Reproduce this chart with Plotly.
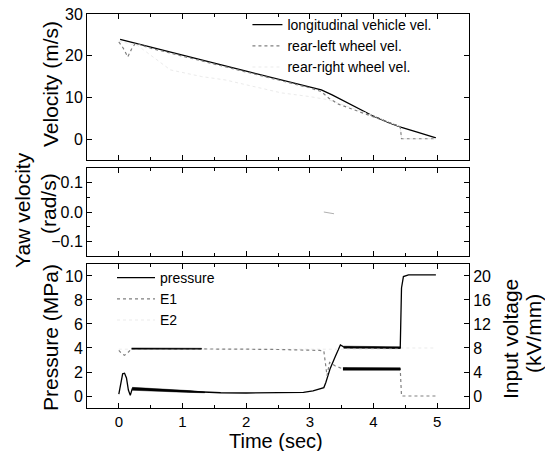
import plotly.graph_objects as go

# ---------------- data ----------------
vel_t = [0.02, 0.5, 1.0, 1.5, 2.0, 2.5, 3.0, 3.18, 3.35, 3.5, 3.75, 4.0, 4.25, 4.44, 4.7, 4.98]
vehicle_vel = [23.9, 22.0, 20.1, 18.2, 16.3, 14.4, 12.5, 11.8, 10.6, 9.4, 7.4, 5.5, 3.9, 2.8, 1.6, 0.3]

rl_t = [0.0, 0.07, 0.14, 0.2, 0.26, 0.5, 1.0, 1.5, 2.0, 2.5, 3.0, 3.18, 3.3, 3.45, 3.7, 4.0, 4.25, 4.42, 4.44, 4.98]
rear_left_vel = [23.3, 21.8, 19.7, 21.6, 23.0, 21.8, 19.9, 18.0, 16.1, 14.2, 12.3, 11.4, 9.8, 8.4, 7.0, 5.3, 3.8, 3.0, 0.1, 0.1]

rr_t = [0.0, 0.3, 0.81, 1.3, 1.67, 2.55, 3.0, 3.3, 3.6, 4.0, 4.42, 4.44, 4.98]
rear_right_vel = [23.5, 22.4, 16.6, 15.0, 14.2, 11.1, 10.2, 9.4, 7.8, 5.6, 3.0, 0.1, 0.1]

yaw_t = [3.22, 3.3, 3.38]
yaw_vel = [0.0, -0.003, -0.006]

p_t = [0.0, 0.03, 0.06, 0.09, 0.12, 0.15, 0.18, 0.21, 0.3, 0.6, 1.0, 1.3, 1.6, 2.0, 2.5, 2.9,
       3.05, 3.15, 3.22, 3.25, 3.28, 3.32, 3.4, 3.48, 3.53, 3.7, 4.0, 4.3, 4.42, 4.44, 4.47, 4.55, 4.8, 4.98]
pressure = [0.15, 1.2, 1.85, 1.9, 1.5, 0.5, 0.05, 0.6, 0.62, 0.5, 0.4, 0.32, 0.27, 0.25, 0.25, 0.3,
            0.42, 0.55, 0.7, 1.1, 1.7, 2.3, 3.3, 4.25, 4.1, 4.05, 4.05, 4.05, 4.0, 9.0, 9.95, 10.1, 10.1, 10.1]
# oscillation envelopes of pressure (MPa)
pb1_t = [0.21, 0.5, 0.8, 1.1, 1.35]
pb1_hi = [0.72, 0.64, 0.55, 0.45, 0.33]
pb1_lo = [0.48, 0.42, 0.36, 0.3, 0.27]
pb2_t = [3.53, 4.42]
pb2_hi = [4.15, 4.1]
pb2_lo = [3.97, 3.95]

e1_t = [0.0, 0.05, 0.09, 0.14, 0.2, 0.5, 1.0, 1.5, 2.0, 2.5, 3.0, 3.15, 3.22, 3.27, 3.31, 3.4, 3.5, 4.0, 4.42, 4.44, 4.98]
e1 = [7.6, 7.0, 6.8, 7.2, 7.9, 7.9, 7.9, 7.85, 7.8, 7.75, 7.7, 7.6, 7.5, 3.4, 5.6, 5.0, 4.6, 4.5, 4.5, 0.0, 0.0]
# oscillation envelopes of E1 (kV/mm)
eb1_t = [0.2, 1.3]
eb1_hi = [8.0, 7.95]
eb1_lo = [7.8, 7.8]
eb2_t = [3.52, 4.42]
eb2_hi = [4.75, 4.7]
eb2_lo = [4.3, 4.3]

e2_t = [0.0, 4.42, 4.44, 4.98]
e2 = [7.8, 7.8, 8.0, 8.0]

x_ticks = [0, 1, 2, 3, 4, 5]

# ---------------- figure ----------------
FONT = "Liberation Sans, Arial, sans-serif"
fig = go.Figure()

fig.add_trace(go.Scatter(x=vel_t, y=vehicle_vel, mode="lines", name="longitudinal vehicle vel.",
                         line=dict(color="black", width=1.3), xaxis="x", yaxis="y", legend="legend"))
fig.add_trace(go.Scatter(x=rl_t, y=rear_left_vel, mode="lines", name="rear-left wheel vel.",
                         line=dict(color="#808080", width=1.2, dash="dot"), xaxis="x", yaxis="y", legend="legend"))
fig.add_trace(go.Scatter(x=rr_t, y=rear_right_vel, mode="lines", name="rear-right wheel vel.",
                         line=dict(color="#ebebeb", width=1, dash="dot"), xaxis="x", yaxis="y", legend="legend"))

fig.add_trace(go.Scatter(x=yaw_t, y=yaw_vel, mode="lines", showlegend=False,
                         line=dict(color="#b0b0b0", width=1), xaxis="x2", yaxis="y2"))

def band(t, hi, lo, xa, ya):
    return go.Scatter(x=t + t[::-1], y=hi + lo[::-1], mode="lines", fill="toself",
                      fillcolor="black", line=dict(color="black", width=0.5),
                      showlegend=False, hoverinfo="skip", xaxis=xa, yaxis=ya)

fig.add_trace(go.Scatter(x=e2_t, y=e2, mode="lines", name="E2",
                         line=dict(color="#ebebeb", width=1, dash="dot"), xaxis="x3", yaxis="y4",
                         legend="legend2", legendrank=3))
fig.add_trace(go.Scatter(x=e1_t, y=e1, mode="lines", name="E1",
                         line=dict(color="#808080", width=1.2, dash="dot"), xaxis="x3", yaxis="y4",
                         legend="legend2", legendrank=2))
fig.add_trace(band(eb1_t, eb1_hi, eb1_lo, "x3", "y4"))
fig.add_trace(band(eb2_t, eb2_hi, eb2_lo, "x3", "y4"))
fig.add_trace(go.Scatter(x=p_t, y=pressure, mode="lines", name="pressure",
                         line=dict(color="black", width=1.3), xaxis="x3", yaxis="y3",
                         legend="legend2", legendrank=1))
fig.add_trace(band(pb1_t, pb1_hi, pb1_lo, "x3", "y3"))
fig.add_trace(band(pb2_t, pb2_hi, pb2_lo, "x3", "y3"))

tickfont = dict(family=FONT, size=16, color="black")
xcommon = dict(range=[-0.5, 5.5], tickvals=x_ticks, ticks="inside", ticklen=5, tickwidth=1,
               tickcolor="black", showline=True, linecolor="black", linewidth=1, mirror="ticks",
               showgrid=False, zeroline=False, tickfont=dict(family=FONT, size=15, color="black"),
               automargin=False,
               minor=dict(dtick=0.5, ticks="inside", ticklen=3, tickcolor="black"))
ycommon = dict(ticks="inside", ticklen=5, tickwidth=1, tickcolor="black", showline=True,
               linecolor="black", linewidth=1, showgrid=False, zeroline=False, tickfont=tickfont,
               automargin=False)

W = 382.0
H = 394.0
def px_x(px):
    return (px - 87) / W
def px_y(py):
    return (408 - py) / H

fig.update_layout(
    width=545, height=451,
    autosize=False,
    margin=dict(l=87, r=76, t=14, b=43, autoexpand=False),
    paper_bgcolor="white", plot_bgcolor="white",
    font=dict(family=FONT, color="black"),
    xaxis=dict(domain=[0, 1], anchor="y", showticklabels=False, **xcommon),
    xaxis2=dict(domain=[0, 1], anchor="y2", showticklabels=False, **xcommon),
    xaxis3=dict(domain=[0, 1], anchor="y3", showticklabels=True, **xcommon),
    yaxis=dict(domain=[0.6294, 1], anchor="x", range=[-5, 30], tickvals=[0, 10, 20, 30],
               mirror="ticks", **ycommon),
    yaxis2=dict(domain=[0.3858, 0.6091], anchor="x2", range=[-0.15, 0.15], tickvals=[-0.1, 0.0, 0.1],
                tickformat=".1f", mirror="ticks",
                minor=dict(dtick=0.05, ticks="inside", ticklen=3, tickcolor="black"), **ycommon),
    yaxis3=dict(domain=[0, 0.3655], anchor="x3", range=[-1, 11], tickvals=[0, 2, 4, 6, 8, 10],
                mirror=False, **ycommon),
    yaxis4=dict(overlaying="y3", anchor="x3", side="right", range=[-2, 22],
                tickvals=[0, 4, 8, 12, 16, 20], mirror=False, **ycommon),
    legend=dict(x=0.42, y=px_y(9), xanchor="left", yanchor="top", bgcolor="rgba(0,0,0,0)",
                font=dict(family=FONT, size=14, color="black"), tracegroupgap=0, itemwidth=30),
    legend2=dict(x=px_x(112), y=px_y(262), xanchor="left", yanchor="top", bgcolor="rgba(0,0,0,0)",
                 font=dict(family=FONT, size=14, color="black"), tracegroupgap=0, itemwidth=38),
    showlegend=True,
)

annots = [
    ("Velocity (m/s)", 51, 84, -90, 21),
    ("Yaw velocity", 22, 210, -90, 21),
    ("(rad/s)", 48, 204, -90, 21),
    ("Pressure (MPa)", 50, 338, -90, 21),
    ("Input voltage", 510, 339, -90, 21),
    ("(kV/mm)", 533, 334, -90, 21),
    ("Time (sec)", 276, 441, 0, 20),
]
for text, ax, ay, ang, fs in annots:
    fig.add_annotation(text=text, xref="paper", yref="paper", x=px_x(ax), y=px_y(ay),
                       xanchor="center", yanchor="middle", showarrow=False, textangle=ang,
                       font=dict(family=FONT, size=fs, color="black"))

fig.write_html("out.html", config={"displayModeBar": False},
               post_script="document.body.style.margin='0';document.body.style.overflow='hidden';")
